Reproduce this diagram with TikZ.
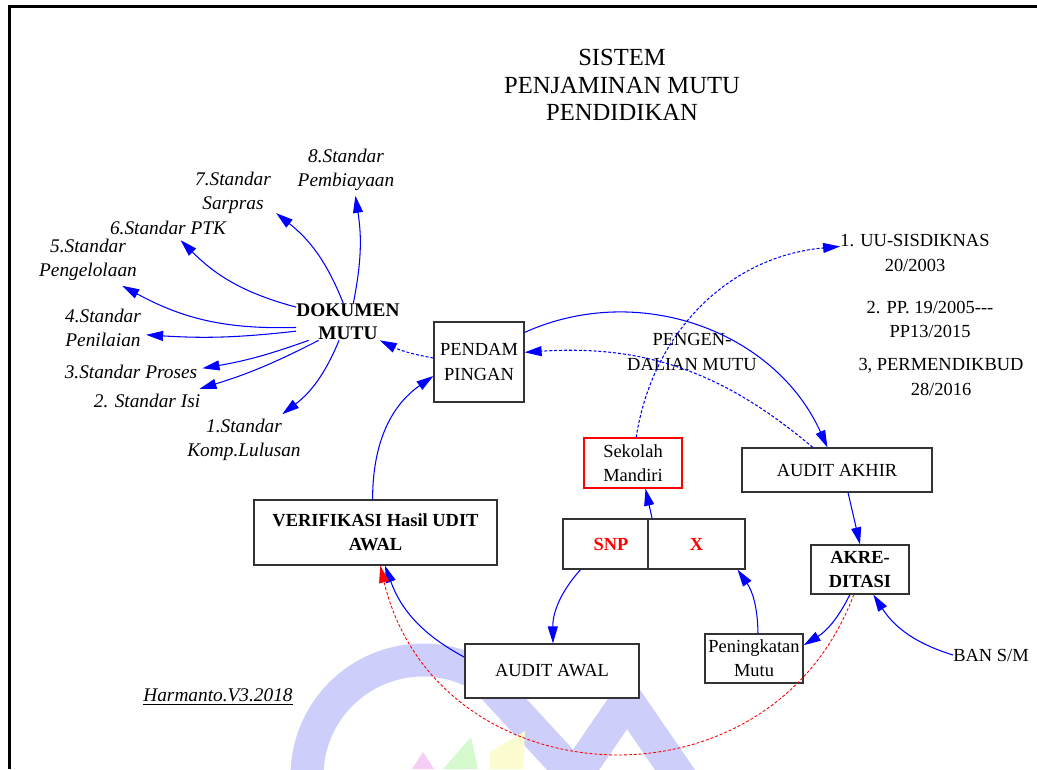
\documentclass[tikz,border=0pt]{standalone}
\usepackage{fontspec}
\setmainfont{Liberation Serif}
\usetikzlibrary{arrows.meta}
\definecolor{wmblue}{RGB}{205,207,250}
\definecolor{wmpink}{RGB}{245,205,245}
\definecolor{wmgreen}{RGB}{212,250,206}
\definecolor{wmyellow}{RGB}{252,252,208}
\tikzstyle{sheet} = [x=0.02cm,
                    y=-0.02cm,
                    >={Triangle[length=0.34cm,width=0.2cm]}]
\tikzstyle{box} = [rectangle,
                  align=center,
                  inner sep=0pt,
                  draw=black!80,
                  fill=white,
                  line width=0.75pt,
                  font=\fontsize{10.5}{13.7}\selectfont]
\tikzstyle{stdtext} = [align=center,
                      inner sep=2.8pt,
                      font=\fontsize{11}{13.4}\selectfont\itshape]
\tikzstyle{plain} = [align=center,
                    inner sep=0pt,
                    font=\fontsize{10.5}{13.7}\selectfont]
\tikzstyle{flow} = [->, every edge/.append style={blue, line width=0.6pt}]
\tikzstyle{flowdash} = [flow, every edge/.append style={dash pattern=on 1.7pt off 1.1pt}]
\tikzstyle{backflow} = [->, every edge/.append style={red, line width=0.5pt,
                       dash pattern=on 1.7pt off 1.1pt}]

\begin{document}
\begin{tikzpicture}[sheet]
    \useasboundingbox (0,0) rectangle (1037,769);
    \begin{scope}
      \clip (0,0) rectangle (1037,769);
      \draw[wmblue, line width=0.66cm, line join=round]
        (307,776) arc[start angle=180, end angle=302, radius=116]
        -- (575,776) -- (627,700) -- (682,780);
      \fill[wmpink] (412,769) -- (423,752) -- (434,769) -- cycle;
      \fill[wmgreen] (443,769) -- (471,737) -- (478,769) -- cycle;
      \fill[wmyellow] (490,769) -- (490,752) -- (525,731) -- (523,769) -- cycle;
    \end{scope}
    \draw[line width=1.4pt] (9.3,769) -- (9.3,6.7) -- (1037,6.7);

    \node (title) [align=center, font=\fontsize{14}{15.6}\selectfont] at (622,85)
      {SISTEM\\PENJAMINAN MUTU\\PENDIDIKAN};
    \node (dok) [align=center, inner sep=0pt, font=\fontsize{11}{13.1}\selectfont\bfseries]
      at (348,322) {DOKUMEN\\MUTU};
    \node (s8) [stdtext] at (346,170) {8.Standar\\Pembiayaan};
    \node (s7) [stdtext] at (233,193) {7.Standar\\Sarpras};
    \node (s6) [stdtext] at (168,228) {6.Standar PTK};
    \node (s5) [stdtext] at (88,260) {5.Standar\\Pengelolaan};
    \node (s4) [stdtext] at (103,328) {4.Standar\\Penilaian};
    \node (s3) [stdtext] at (131,372) {3.Standar Proses};
    \node (s2) [stdtext] at (147,401) {2. Standar Isi};
    \node (s1) [stdtext] at (244,440) {1.Standar\\Komp.Lulusan};

    \node (pend) [box, minimum width=1.8cm, minimum height=1.6cm] at (479,362) {PENDAM\\PINGAN};
    \node (peng) [plain] at (692,352) {PENGEN-\\DALIAN MUTU};
    \node (uu) [plain] at (915,253) {1. UU-SISDIKNAS\\20/2003};
    \node (pp) [plain] at (930,319) {2. PP. 19/2005-{}-{}-\\PP13/2015};
    \node (perm) [plain] at (941,377) {3, PERMENDIKBUD\\28/2016};
    \node (sek) [box, draw=red, minimum width=1.96cm, minimum height=1cm] at (633,463) {Sekolah\\Mandiri};
    \node (akhir) [box, minimum width=3.8cm, minimum height=0.88cm] at (837,470) {AUDIT AKHIR};
    \node (verif) [box, font=\fontsize{10.5}{13.7}\selectfont\bfseries,
      minimum width=4.86cm, minimum height=1.3cm] at (375.5,532.5) {VERIFIKASI Hasil UDIT\\AWAL};
    \node (snp) [box, text=red, font=\fontsize{10.5}{13.7}\selectfont\bfseries,
      minimum width=1.92cm, minimum height=1cm] at (611,544) {SNP};
    \node (x) [box, text=red, font=\fontsize{10.5}{13.7}\selectfont\bfseries,
      minimum width=1.94cm, minimum height=1cm] at (696.5,544) {X};
    \node (akred) [box, font=\fontsize{10.5}{13.7}\selectfont\bfseries,
      minimum width=1.96cm, minimum height=0.98cm] at (860,569.5) {AKRE-\\DITASI};
    \node (pening) [box, minimum width=1.96cm, minimum height=0.98cm] at (754,658.5) {Peningkatan\\Mutu};
    \node (awal) [box, minimum width=3.48cm, minimum height=1.08cm] at (552,671) {AUDIT AWAL};
    \node (ban) [plain] at (991,655) {BAN S/M};
    \node (harm) [plain, font=\fontsize{11}{13.4}\selectfont\itshape] at (218,697)
      {\underline{Harmanto.V3.2018}};

    \path[flow]
      (dok.74) edge[bend right=10] (s8.-70)
      (dok.104) edge[bend right=15] (s7.-25)
      (dok.164) edge[bend left=15] (s6.-44)
      (dok.186) edge[bend left=15] (s5.-37)
      (dok.190) edge[bend left=5] (s4.-9)
      (dok.205) edge[bend left=5] (s3.3)
      (dok.212) edge[bend left=5] (s2.13)
      (dok.244) edge[bend left=15] (s1.34)
      (verif.95) edge[out=90, in=215] (pend.197)
      (pend.33) edge[bend left=45] (akhir.113)
      (x.150) edge (sek.-64)
      (akhir.-64) edge (akred.north)
      (akred.-112) edge[bend left=16] (pening.15)
      (pening.81) edge[bend right=17] (x.-32)
      (ban.west) edge[bend left=20] (akred.-62)
      (snp.220) edge[bend right=21] (awal.88)
      (awal.171) edge[bend left=21] (verif.-74);
    \path[flowdash]
      (pend.175) edge[bend left=8] (dok.-30)
      (akhir.137) edge[bend right=22] (pend.12)
      (sek.83) edge[bend left=38] (uu.175);
    \path[backflow]
      (akred.-104) edge[bend left=73, looseness=1.3] (verif.-82);
  \end{tikzpicture}
\end{document}
